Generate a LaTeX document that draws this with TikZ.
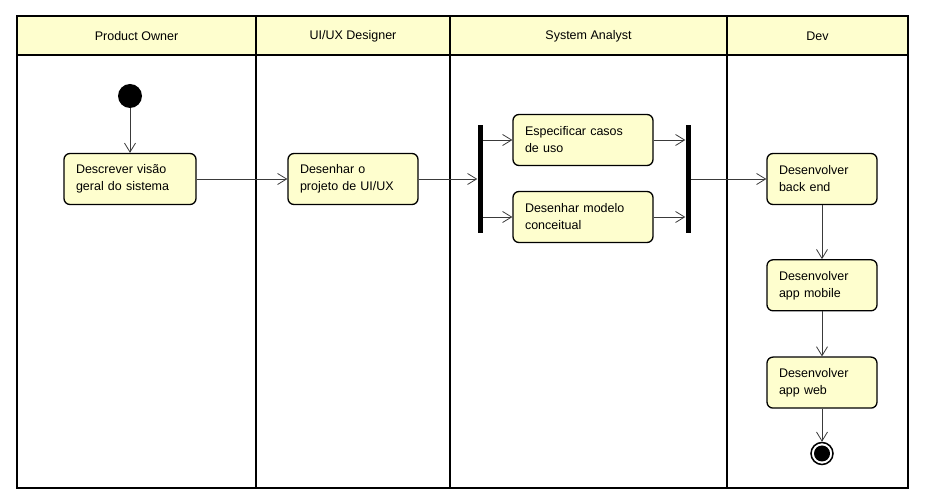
\documentclass[tikz,border=0pt]{standalone}
\usepackage{fontspec}
\setmainfont{Liberation Sans}
\usetikzlibrary{arrows.meta,positioning}
\definecolor{umlfill}{HTML}{FEFECE}
\definecolor{flowline}{HTML}{3A3A3A}

\begin{document}
\begin{tikzpicture}[x=1pt, y=-1pt, >={Straight Barb[length=9pt,width=11pt]},
    font=\fontsize{12.5}{17}\selectfont,
    lane/.style={draw, line width=1.6pt},
    act/.style={rectangle, rounded corners=6pt, draw, line width=1.3pt, fill=umlfill,
        align=left, inner xsep=12pt, inner ysep=3pt, minimum height=51pt, text width=#1},
    act/.default=86pt,
    bar/.style={rectangle, fill=black, minimum width=5pt, minimum height=108pt, inner sep=0pt},
    startnode/.style={circle, fill=black, minimum size=24pt, inner sep=0pt},
    endnode/.style={circle, draw, line width=1.5pt, fill=white, minimum size=22pt, inner sep=0pt},
    flow/.style={->, draw=flowline, line width=0.8pt}]
    \useasboundingbox (0,0) rectangle (930,502);
    % swimlanes
    \draw[lane, fill=umlfill] (17,16) rectangle (908,55);
    \draw[lane] (17,55) rectangle (908,488);
    \foreach \x in {256,450,727}
        \draw[lane] (\x,16) -- (\x,488);
    \node (hpo) at (136.5,36) {Product Owner};
    \node (hux) at (353,36) {UI/UX Designer};
    \node (hsa) at (588.5,36) {System Analyst};
    \node (hdev) at (817.5,36) {Dev};
    % actions
    \node[startnode] (start) at (130,96) {};
    \node[act=108pt] (visao) at (130,179) {Descrever visão\\geral do sistema};
    \node[act=106pt] (projeto) at (353,179) {Desenhar o\\projeto de UI/UX};
    \node[bar] (fork) at (480,179) {};
    \node[act=116pt] (casos) at (583,140) {Especificar casos\\de uso};
    \node[act=116pt] (modelo) at (583,217) {Desenhar modelo\\conceitual};
    \node[bar] (join) at (688,179) {};
    \node[act] (back) at (822,179) {Desenvolver\\back end};
    \node[act, below=54pt of back] (mobile) {Desenvolver\\app mobile};
    \node[act, below=45pt of mobile] (web) {Desenvolver\\app web};
    \node[endnode, below=33pt of web] (fim) {};
    \fill (fim) circle (8pt);
    % flows
    \draw[flow] (start) -- (visao);
    \draw[flow] (visao) -- (projeto);
    \draw[flow] (projeto) -- (fork);
    \draw[flow] (fork.east |- casos) -- (casos);
    \draw[flow] (fork.east |- modelo) -- (modelo);
    \draw[flow] (casos) -- (join.west |- casos);
    \draw[flow] (modelo) -- (join.west |- modelo);
    \draw[flow] (join) -- (back);
    \draw[flow] (back) -- (mobile);
    \draw[flow] (mobile) -- (web);
    \draw[flow] (web) -- (fim);
\end{tikzpicture}
\end{document}
